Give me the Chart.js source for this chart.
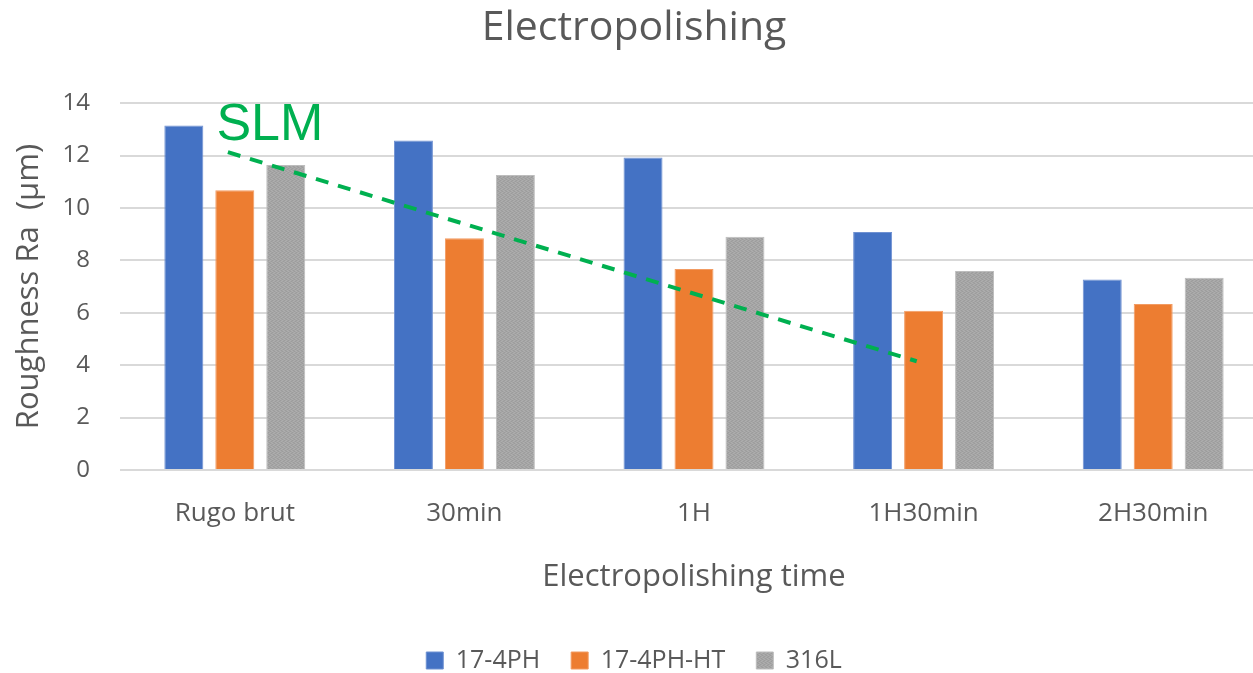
<!DOCTYPE html>
<html>
<head>
<meta charset="utf-8">
<script src="https://cdn.jsdelivr.net/npm/chart.js@4.4.1/dist/chart.umd.min.js"></script>
<style>
  html, body { margin: 0; padding: 0; background: #fff; overflow: hidden; }
  canvas { display: block; }
</style>
</head>
<body>
<canvas id="c" width="1270" height="683"></canvas>
<script>
// Categories and roughness values (Ra, µm)
const categories = ['Rugo brut', '30min', '1H', '1H30min', '2H30min'];
const ra174PH   = [13.15, 12.58, 11.93, 9.08, 7.27];
const ra174PHHT = [10.68, 8.85, 7.67, 6.08, 6.34];
const ra316L    = [11.64, 11.26, 8.90, 7.60, 7.34];

// SLM trend line: category position (index) and Ra at each end
const slmTrendX = [-0.03, 2.97];
const slmTrendY = [12.13, 4.15];
const slmLabel = 'SLM';
const slmLabelAt = [-0.08, 12.6];

const yTicks = [0, 2, 4, 6, 8, 10, 12, 14];

const textColor = '#595959';
const gridColor = '#D9D9D9';
const slmColor = '#00B050';
const font = '"Open Sans", sans-serif';

// Fine dithered grey fill for the 316L bars
function greyPattern() {
  const p = document.createElement('canvas');
  p.width = 4; p.height = 4;
  const g = p.getContext('2d');
  g.fillStyle = '#A5A5A5';
  g.fillRect(0, 0, 4, 4);
  g.fillStyle = '#9C9C9C';
  g.fillRect(0, 0, 1, 1); g.fillRect(3, 1, 1, 1); g.fillRect(1, 2, 1, 1); g.fillRect(2, 3, 1, 1);
  g.fillStyle = '#AEAEAE';
  g.fillRect(2, 0, 1, 1); g.fillRect(1, 1, 1, 1); g.fillRect(3, 2, 1, 1); g.fillRect(0, 3, 1, 1);
  return g.createPattern(p, 'repeat');
}

// Dashed SLM trend line and its label, placed through the chart's scales
const slmTrendPlugin = {
  id: 'slmTrend',
  afterDatasetsDraw(chart) {
    const x = chart.scales.x, y = chart.scales.y;
    const c = chart.ctx;
    c.save();
    c.strokeStyle = slmColor;
    c.lineWidth = 4;
    c.setLineDash([13, 10]);
    c.beginPath();
    c.moveTo(x.getPixelForValue(slmTrendX[0]), y.getPixelForValue(slmTrendY[0]));
    c.lineTo(x.getPixelForValue(slmTrendX[1]), y.getPixelForValue(slmTrendY[1]));
    c.stroke();
    c.setLineDash([]);
    c.fillStyle = slmColor;
    c.font = '52px "Liberation Sans", Arial, sans-serif';
    c.textAlign = 'left';
    c.textBaseline = 'alphabetic';
    c.fillText(slmLabel, x.getPixelForValue(slmLabelAt[0]), y.getPixelForValue(slmLabelAt[1]));
    c.restore();
  }
};

const ctx = document.getElementById('c').getContext('2d');
new Chart(ctx, {
  type: 'bar',
  data: {
    labels: categories,
    datasets: [
      { label: '17-4PH', data: ra174PH, backgroundColor: '#4472C4', borderColor: '#6F91D2', borderWidth: 1 },
      { label: '17-4PH-HT', data: ra174PHHT, backgroundColor: '#ED7D31', borderColor: '#F29B62', borderWidth: 1 },
      { label: '316L', data: ra316L, backgroundColor: greyPattern(), borderColor: '#BDBDBD', borderWidth: 1 }
    ]
  },
  options: {
    responsive: false,
    devicePixelRatio: 1,
    animation: false,
    layout: { padding: { left: 0, right: 2, top: 0, bottom: 0 } },
    categoryPercentage: 0.666,
    barPercentage: 0.765,
    plugins: {
      title: {
        display: true,
        text: 'Electropolishing',
        color: textColor,
        font: { family: font, size: 41, weight: 'normal' },
        padding: { top: 4, bottom: 50 }
      },
      legend: {
        position: 'bottom',
        labels: {
          color: textColor,
          boxWidth: 17, boxHeight: 17,
          padding: 31,
          font: { family: font, size: 25 }
        }
      },
      tooltip: { enabled: false }
    },
    scales: {
      x: {
        grid: { display: false, drawTicks: false },
        border: { display: false },
        ticks: { color: textColor, padding: 28, font: { family: font, size: 26 } },
        title: { display: true, text: 'Electropolishing time', color: textColor, padding: { top: 21, bottom: 21 }, font: { family: font, size: 31 } },
        afterFit(scale) { scale.height = 147; }
      },
      y: {
        min: 0, max: 14,
        afterBuildTicks(scale) { scale.ticks = yTicks.map(v => ({ value: v })); },
        grid: { color: gridColor, lineWidth: 2, drawTicks: false },
        border: { display: false },
        ticks: { color: textColor, padding: 30, font: { family: font, size: 24 } },
        title: { display: true, text: 'Roughness Ra  (µm)', color: textColor, padding: { top: 11, bottom: 11 }, font: { family: font, size: 31 } },
        afterFit(scale) { scale.width = 120; }
      }
    }
  },
  plugins: [slmTrendPlugin]
});
</script>
</body>
</html>
